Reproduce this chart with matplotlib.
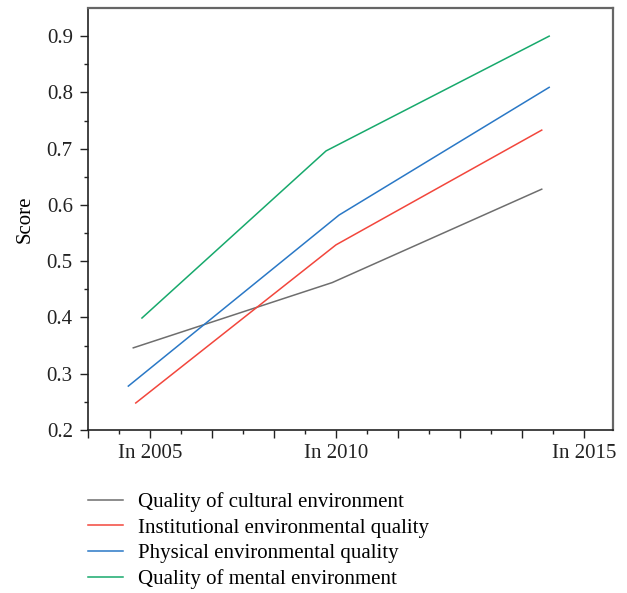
import numpy as np
import matplotlib.pyplot as plt
import matplotlib as mpl

mpl.rcParams['font.family'] = ['Liberation Serif', 'DejaVu Serif']
mpl.rcParams['font.size'] = 11

# x positions are in tick units (one major tick = one unit)
x_cult = [0.73, 3.94, 7.32]
y_cult = [0.346, 0.462, 0.628]
x_inst = [0.77, 4.00, 7.32]
y_inst = [0.248, 0.529, 0.733]
x_phys = [0.65, 4.05, 7.44]
y_phys = [0.278, 0.582, 0.809]
x_ment = [0.87, 3.84, 7.44]
y_ment = [0.399, 0.696, 0.900]

labels = ["Quality of cultural environment",
          "Institutional environmental quality",
          "Physical environmental quality",
          "Quality of mental environment"]
colors = ["#6e6e6e", "#f2463c", "#2a78c6", "#17a96c"]

xtick_pos = [1, 4, 8]
xtick_lab = ["In 2005", "In 2010", "In 2015"]
yticks = [0.2, 0.3, 0.4, 0.5, 0.6, 0.7, 0.8, 0.9]

fig = plt.figure(figsize=(6.27, 5.93), dpi=100)
ax = fig.add_axes([0.1404, 0.2749, 0.8373, 0.7116])

series = [(x_cult, y_cult), (x_inst, y_inst), (x_phys, y_phys), (x_ment, y_ment)]
for (xs, ys), lab, c in zip(series, labels, colors):
    ax.plot(xs, ys, color=c, lw=1.1, label=lab)

ax.set_xlim(0, 8.47)
ax.set_ylim(0.2, 0.95)

ax.set_xticks(np.arange(0, 9))
ax.set_xticklabels(["" if i not in xtick_pos else xtick_lab[xtick_pos.index(i)]
                    for i in range(9)])
ax.set_xticks(np.arange(0.5, 8.5, 1), minor=True)
ax.set_yticks(yticks)
ax.set_yticks(np.arange(0.25, 0.95, 0.1), minor=True)

ax.tick_params(which='major', direction='out', length=6, width=1, labelsize=15, colors='#222222')
ax.tick_params(which='minor', direction='out', length=3, width=1, colors='#222222')
ax.tick_params(axis='x', pad=4)
ax.tick_params(axis='y', pad=5)

for s in ['left', 'bottom']:
    ax.spines[s].set_color('#222222')
    ax.spines[s].set_linewidth(1.2)
for s in ['top', 'right']:
    ax.spines[s].set_color('#666666')
    ax.spines[s].set_linewidth(1.6)

ax.set_ylabel("Score", fontsize=15, labelpad=9)

fig.legend(loc='upper left', bbox_to_anchor=(0.127, 0.184), frameon=False,
           fontsize=15, handlelength=1.7, handletextpad=0.7, labelspacing=0.29,
           borderaxespad=0)

plt.savefig('out.png', dpi=100)
